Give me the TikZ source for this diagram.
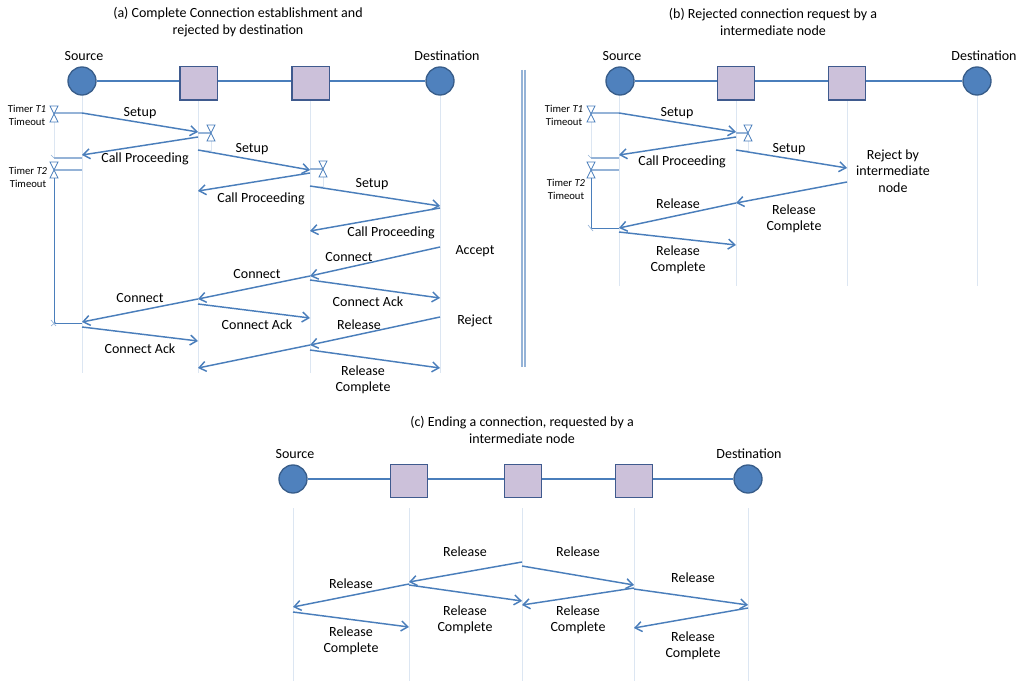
\documentclass[tikz,border=0pt]{standalone}
\usepackage{fontspec}
\setmainfont{Carlito}
\usetikzlibrary{arrows.meta}
\definecolor{lineblue}{HTML}{4A7EBB}
\definecolor{lifeblue}{HTML}{DCE6F2}
\definecolor{timerblue}{HTML}{95B3D7}
\definecolor{circfill}{HTML}{4F81BD}
\definecolor{circedge}{HTML}{385D8A}
\definecolor{sqfill}{HTML}{CCC1DA}
\definecolor{sqedge}{HTML}{3F5A8E}
\tikzset{
  x=0.75pt,y=-0.75pt,
  txt/.style={font=\fontsize{10.5pt}{12.3pt}\selectfont,align=center,text=black,inner sep=0pt},
  small/.style={font=\fontsize{8pt}{9.9pt}\selectfont,align=center,text=black,inner sep=0pt},
  endpoint/.style={circle,draw=circedge,fill=circfill,line width=1pt,minimum size=21pt,inner sep=0pt},
  switchbox/.style={rectangle,draw=sqedge,fill=sqfill,line width=1pt,minimum width=28pt,minimum height=25pt,inner sep=0pt},
  linkline/.style={draw=lineblue,line width=1.1pt},
  life/.style={draw=lifeblue,line width=0.6pt},
  msgline/.style={draw=lineblue,line width=1.1pt,-{Straight Barb[length=5pt,width=7.5pt,line width=1.1pt]}},
  timerline/.style={draw=timerblue,line width=0.8pt},
  timerdown/.style={draw=lineblue,line width=0.7pt},
  hourglass/.style={draw=lineblue,line width=0.6pt,fill=white}
}
\newcommand{\msg}[3]{\coordinate (#1s) at (#2);\coordinate (#1e) at (#3);\draw[msgline] (#1s) -- (#1e);}
\newcommand{\hglass}[3]{\coordinate (#1) at (#2,#3);\draw[hourglass] ([shift={(-4,-8)}]#1) -- ([shift={(4,-8)}]#1) -- ([shift={(-4,8)}]#1) -- ([shift={(4,8)}]#1) -- cycle;}
\newcommand{\timerlink}[5]{\coordinate (#1s) at (#2,#3);\coordinate (#1e) at (#4,#5);\draw[timerline] (#1s) -- (#1e);}
\begin{document}
\begin{tikzpicture}
\useasboundingbox (0,0) rectangle (1024,691);
% ===== (a)
\node[txt] (ta) at (238,22) {(a) Complete Connection establishment and\\rejected by destination};
\draw[life] (82,95) -- (82,373) (198,100) -- (198,373) (310,100) -- (310,373) (440,95) -- (440,373);
\node[endpoint] (a1) at (82,81) {};
\node[switchbox] (a2) at (198.5,83.5) {};
\node[switchbox] (a3) at (310.5,83.5) {};
\node[endpoint] (a4) at (440,81) {};
\draw[linkline] (a1) -- (a2.west |- a1) (a2.east |- a1) -- (a3.west |- a1) (a3.east |- a1) -- (a4);
\node[txt] at (84,56) {Source};
\node[txt] at (447,56) {Destination};
\node[small] at (27,115) {Timer \textit{T1}\\Timeout};
\node[small] at (28,177) {Timer \textit{T2}\\Timeout};
\draw[life] (54,122) -- (54,158);
\timerlink{aa}{54}{113}{82}{113}
\timerlink{ab}{54}{158}{82}{158}
\timerlink{ac}{54}{170}{82}{170}
\timerlink{ad}{198}{133}{211}{133}
\timerlink{ae}{310}{169}{323}{169}
\draw[life] (211,141) -- (211,150) -- (198,150);
\draw[life] (323,177) -- (323,186) -- (310,186);
\hglass{ha}{54}{114}
\hglass{hb}{54}{170}
\hglass{hc}{211}{133}
\hglass{hd}{323}{169}
\coordinate (atd1) at (54,178); \coordinate (atd2) at (54,323); \coordinate (atd3) at (82,323);
\draw[timerdown] (atd1) -- (atd2) -- (atd3);
\draw[timerline,line width=0.5pt] (51,320) -- (56,326) (51,326) -- (56,322) (51,155) -- (54,158);
\msg{m1}{82,113}{198,132}
\msg{m2}{198,137}{82,155}
\msg{m3}{198,150}{310,170}
\msg{m4}{310,173}{198,191}
\msg{m5}{310,186}{440,206}
\msg{m6}{440,208}{310,231}
\msg{m7}{440,247}{310,276}
\msg{m8}{310,276}{198,299}
\msg{m9}{198,299}{82,322}
\msg{m10}{310,280}{440,298}
\msg{m11}{198,304}{310,318}
\msg{m12}{82,327}{198,341}
\msg{m13}{440,317}{310,345}
\msg{m14}{310,345}{198,368}
\msg{m15}{310,350}{440,368}
\node[txt] at (140,113) {Setup};
\node[txt] at (145,159) {Call Proceeding};
\node[txt] at (252,149) {Setup};
\node[txt] at (261,199) {Call Proceeding};
\node[txt] at (372,184) {Setup};
\node[txt] at (391,233) {Call Proceeding};
\node[txt] at (475,251) {Accept};
\node[txt] at (349,257) {Connect};
\node[txt] at (257,274) {Connect};
\node[txt] at (140,298) {Connect};
\node[txt] at (368,302) {Connect Ack};
\node[txt] at (257,325) {Connect Ack};
\node[txt] at (140,349) {Connect Ack};
\node[txt] at (475,321) {Reject};
\node[txt] at (359,325) {Release};
\node[txt] at (363,380) {Release\\Complete};
% separator
\draw[timerline] (522,70) -- (522,367) (525,70) -- (525,367);
% ===== (b)
\node[txt] (tb) at (773,22) {(b) Rejected connection request by a\\intermediate node};
\draw[life] (619,95) -- (619,286) (736,100) -- (736,286) (847,100) -- (847,286) (977,95) -- (977,286);
\node[endpoint] (b1) at (620,81) {};
\node[switchbox] (b2) at (736,83.5) {};
\node[switchbox] (b3) at (847,83.5) {};
\node[endpoint] (b4) at (977,81) {};
\draw[linkline] (b1) -- (b2.west |- b1) (b2.east |- b1) -- (b3.west |- b1) (b3.east |- b1) -- (b4);
\node[txt] at (622,56) {Source};
\node[txt] at (984,56) {Destination};
\node[small] at (564,115) {Timer \textit{T1}\\Timeout};
\node[small] at (566,189) {Timer \textit{T2}\\Timeout};
\draw[life] (591,122) -- (591,158);
\timerlink{ba}{591}{113}{619}{113}
\timerlink{bb}{591}{158}{619}{158}
\timerlink{bc}{591}{170}{619}{170}
\timerlink{bd}{736}{133}{748}{133}
\draw[life] (748,141) -- (748,150) -- (736,150);
\hglass{he}{591}{114}
\hglass{hf}{591}{170}
\hglass{hg}{748}{133}
\coordinate (btd1) at (591,178); \coordinate (btd2) at (591,228); \coordinate (btd3) at (619,228);
\draw[timerdown] (btd1) -- (btd2) -- (btd3);
\draw[timerline,line width=0.5pt] (588,225) -- (593,231) (588,155) -- (591,158);
\msg{n1}{619,113}{736,132}
\msg{n2}{736,137}{619,155}
\msg{n3}{736,150}{847,168}
\msg{n4}{847,182}{736,203}
\msg{n5}{736,203}{619,228}
\msg{n6}{619,232}{736,245}
\node[txt] at (677,113) {Setup};
\node[txt] at (682,162) {Call Proceeding};
\node[txt] at (789,149) {Setup};
\node[txt] at (893,171) {Reject by\\intermediate\\node};
\node[txt] at (678,204) {Release};
\node[txt] at (794,219) {Release\\Complete};
\node[txt] at (678,260) {Release\\Complete};
% ===== (c)
\node[txt] (tc) at (522,430) {(c) Ending a connection, requested by a\\intermediate node};
\draw[life] (293,508) -- (293,681) (409,508) -- (409,681) (522,508) -- (522,681) (634,508) -- (634,681) (748,508) -- (748,681);
\node[endpoint] (c1) at (293,479) {};
\node[switchbox] (c2) at (409,481) {};
\node[switchbox] (c3) at (523,481) {};
\node[switchbox] (c4) at (634,481) {};
\node[endpoint] (c5) at (748,479) {};
\draw[linkline] (c1) -- (c2.west |- c1) (c2.east |- c1) -- (c3.west |- c1) (c3.east |- c1) -- (c4.west |- c1) (c4.east |- c1) -- (c5);
\node[txt] at (295,454) {Source};
\node[txt] at (749,454) {Destination};
\msg{p1}{522,562}{409,582}
\msg{p2}{409,584}{293,607}
\msg{p3}{293,612}{409,627}
\msg{p4}{522,566}{634,585}
\msg{p5}{634,588}{522,605}
\msg{p6}{409,585}{522,601}
\msg{p7}{634,589}{748,605}
\msg{p8}{748,608}{634,628}
\node[txt] at (465,552) {Release};
\node[txt] at (578,552) {Release};
\node[txt] at (351,584) {Release};
\node[txt] at (693,578) {Release};
\node[txt] at (465,620) {Release\\Complete};
\node[txt] at (578,620) {Release\\Complete};
\node[txt] at (351,641) {Release\\Complete};
\node[txt] at (693,646) {Release\\Complete};
\end{tikzpicture}
\end{document}
